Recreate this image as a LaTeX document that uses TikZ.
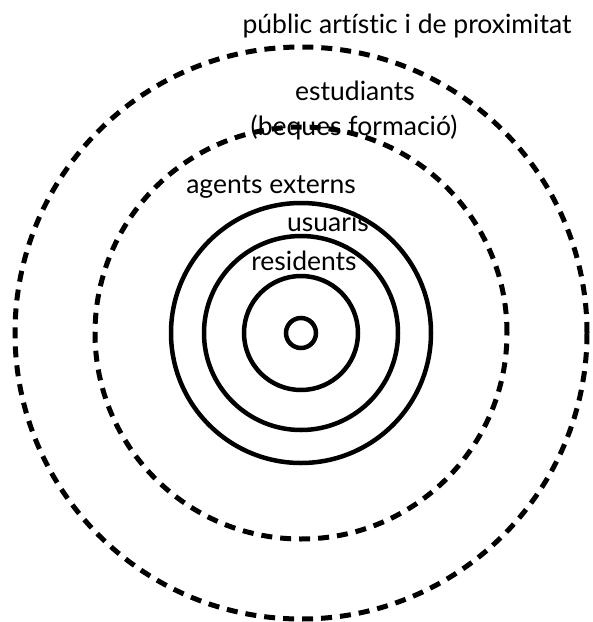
\documentclass[tikz,border=0pt]{standalone}
\usepackage{fontspec}
\setmainfont{Lato}[Ligatures=NoCommon]
\begin{document}
\begin{tikzpicture}[x=1pt,y=-1pt,
  ring/.style={line width=4.5pt},
  dring/.style={line width=5pt,dash pattern=on 11pt off 8pt},
  lbl/.style={anchor=base,inner sep=0pt,font=\fontsize{26.5}{30}\selectfont}]
\useasboundingbox (0,0) rectangle (593,622);
\coordinate (c) at (301,333);
\draw[dring] (c) circle (286pt);
\draw[dring] (c) circle (206pt);
\draw[ring] (c) circle (130pt);
\draw[ring] (c) circle (97pt);
\draw[ring] (c) circle (57pt);
\draw[ring] (c) circle (15pt);
\node[lbl] (p) at (407,33) {públic artístic i de proximitat};
\node[lbl] (e) at (355,100) {estudiants};
\node[lbl] (b) at (354,135) {(beques formació)};
\node[lbl] (a) at (271,193) {agents externs};
\node[lbl] (u) at (328,231) {usuaris};
\node[lbl] (r) at (304,270) {residents};
\end{tikzpicture}
\end{document}
